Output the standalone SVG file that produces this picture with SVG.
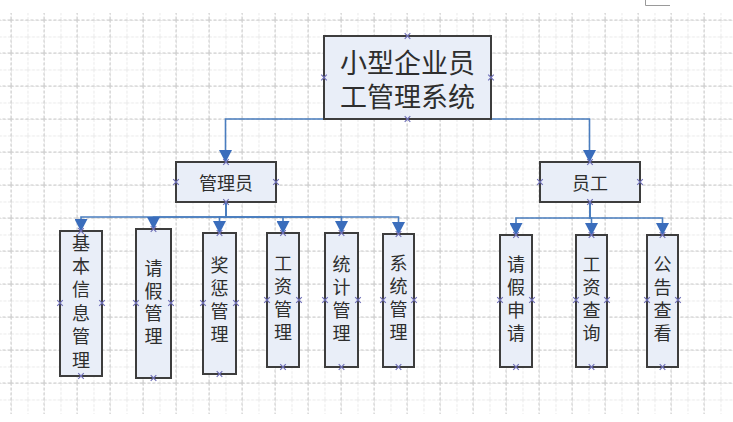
<svg xmlns="http://www.w3.org/2000/svg" width="733" height="422" viewBox="0 0 733 422">
<style>
.box{fill:#e9eef8;stroke:#3d3d3d;stroke-width:2}
.t{font-family:"Noto Sans CJK SC","Noto Sans",sans-serif;fill:#2e2e2e;text-anchor:middle;dominant-baseline:central}
.t1{font-size:27px}
.t2{font-size:18px}
.v{font-family:"Noto Sans CJK SC","Noto Sans",sans-serif;fill:#2e2e2e;font-size:18px;writing-mode:vertical-rl;text-anchor:middle;letter-spacing:5px}
.con{fill:none;stroke:#4a7dbf;stroke-width:1.6;marker-end:url(#arr)}
.cx{stroke:#7070b8;stroke-width:1.2;fill:none}
</style>
<defs>
<pattern id="minor" patternUnits="userSpaceOnUse" x="-5.5" y="3.5" width="16.5" height="16.5">
<path d="M0,0.5 H16.5 M0.5,0 V16.5" fill="none" stroke="#e9e9e9" stroke-width="1" stroke-dasharray="3 1.5"/>
</pattern>
<pattern id="major" patternUnits="userSpaceOnUse" x="10.5" y="19.5" width="33" height="33">
<path d="M0,0.5 H33 M0.5,0 V33" fill="none" stroke="#cbcbcb" stroke-width="1" stroke-dasharray="3 2"/>
</pattern>
<marker id="arr" markerUnits="userSpaceOnUse" markerWidth="13" markerHeight="13" viewBox="0 -6.5 13 13" refX="12" refY="0" orient="auto">
<path d="M0,-6.5 L12.5,0 L0,6.5 z" fill="#3a6dbc"/>
</marker>
<g id="x"><path class="cx" d="M-2.8,-2.8 L2.8,2.8 M-2.8,2.8 L2.8,-2.8"/></g>
</defs>
<rect width="733" height="422" fill="#ffffff"/>
<rect x="0" y="13" width="733" height="401" fill="url(#minor)"/>
<rect x="0" y="13" width="733" height="401" fill="url(#major)"/>
<path d="M645.5,0 V5.5 H670" fill="none" stroke="#9a9a9a" stroke-width="1"/>

<g id="connectors">
<path class="con" d="M407.5,119 H225.5 V162"/>
<path class="con" d="M407.5,119 H589.5 V162"/>
<path class="con" d="M226,202 V217 H81 V231"/>
<path class="con" d="M226,202 V217 H153.5 V229"/>
<path class="con" d="M226,202 V217 H219.5 V233"/>
<path class="con" d="M226,202 V217 H283 V233"/>
<path class="con" d="M226,202 V217 H341.5 V233"/>
<path class="con" d="M226,202 V217 H398.5 V234"/>
<path class="con" d="M590,202 V218 H516 V235"/>
<path class="con" d="M590,202 V218 H591.5 V235"/>
<path class="con" d="M590,202 V218 H662.5 V235"/>
</g>

<g id="root">
<rect class="box" x="324" y="36" width="167" height="83"/>
<text class="t t1" x="407.5" y="61">小型企业员</text>
<text class="t t1" x="407.5" y="95">工管理系统</text>
<use href="#x" x="407.5" y="36"/><use href="#x" x="407.5" y="119"/><use href="#x" x="324" y="77.5"/><use href="#x" x="491" y="77.5"/>
</g>

<g id="admin">
<rect class="box" x="176" y="162" width="100" height="40"/>
<text class="t t2" x="226" y="182">管理员</text>
<use href="#x" x="226" y="162"/><use href="#x" x="226" y="202"/><use href="#x" x="176" y="182"/><use href="#x" x="276" y="182"/>
</g>

<g id="employee">
<rect class="box" x="540" y="162" width="100" height="40"/>
<text class="t t2" x="590" y="182">员工</text>
<use href="#x" x="590" y="162"/><use href="#x" x="590" y="202"/><use href="#x" x="540" y="182"/><use href="#x" x="640" y="182"/>
</g>

<g id="n-basic">
<rect class="box" x="60" y="231" width="42" height="145"/>
<text class="v" x="81" y="304" style="letter-spacing:5.4px">基本信息管理</text>
<use href="#x" x="81" y="231"/><use href="#x" x="81" y="376"/><use href="#x" x="60" y="303"/><use href="#x" x="102" y="303"/>
</g>

<g id="n-leave">
<rect class="box" x="136" y="229" width="35" height="149"/>
<text class="v" x="153.5" y="304.5" style="letter-spacing:4.7px">请假管理</text>
<use href="#x" x="153.5" y="229"/><use href="#x" x="153.5" y="378"/><use href="#x" x="136" y="303"/><use href="#x" x="171" y="303"/>
</g>

<g id="n-reward">
<rect class="box" x="203" y="233" width="33" height="141"/>
<text class="v" x="219.5" y="302">奖惩管理</text>
<use href="#x" x="219.5" y="233"/><use href="#x" x="219.5" y="374"/><use href="#x" x="203" y="303"/><use href="#x" x="236" y="303"/>
</g>

<g id="n-salary">
<rect class="box" x="267" y="233" width="32" height="134"/>
<text class="v" x="283" y="300">工资管理</text>
<use href="#x" x="283" y="233"/><use href="#x" x="283" y="367"/><use href="#x" x="267" y="300"/><use href="#x" x="299" y="300"/>
</g>

<g id="n-stat">
<rect class="box" x="325" y="233" width="33" height="134"/>
<text class="v" x="341.5" y="301.5">统计管理</text>
<use href="#x" x="341.5" y="233"/><use href="#x" x="341.5" y="367"/><use href="#x" x="325" y="300"/><use href="#x" x="358" y="300"/>
</g>

<g id="n-system">
<rect class="box" x="383" y="234" width="31" height="133"/>
<text class="v" x="398.5" y="300.5">系统管理</text>
<use href="#x" x="398.5" y="234"/><use href="#x" x="398.5" y="367"/><use href="#x" x="383" y="300"/><use href="#x" x="414" y="300"/>
</g>

<g id="n-apply">
<rect class="box" x="500" y="235" width="32" height="132"/>
<text class="v" x="516" y="301">请假申请</text>
<use href="#x" x="516" y="235"/><use href="#x" x="516" y="367"/><use href="#x" x="500" y="300"/><use href="#x" x="532" y="300"/>
</g>

<g id="n-query">
<rect class="box" x="576" y="235" width="31" height="132"/>
<text class="v" x="591.5" y="301.5">工资查询</text>
<use href="#x" x="591.5" y="235"/><use href="#x" x="591.5" y="367"/><use href="#x" x="576" y="300"/><use href="#x" x="607" y="300"/>
</g>

<g id="n-notice">
<rect class="box" x="647" y="235" width="31" height="132"/>
<text class="v" x="662.5" y="301.5">公告查看</text>
<use href="#x" x="662.5" y="235"/><use href="#x" x="662.5" y="367"/><use href="#x" x="647" y="300"/><use href="#x" x="678" y="300"/>
</g>
</svg>
